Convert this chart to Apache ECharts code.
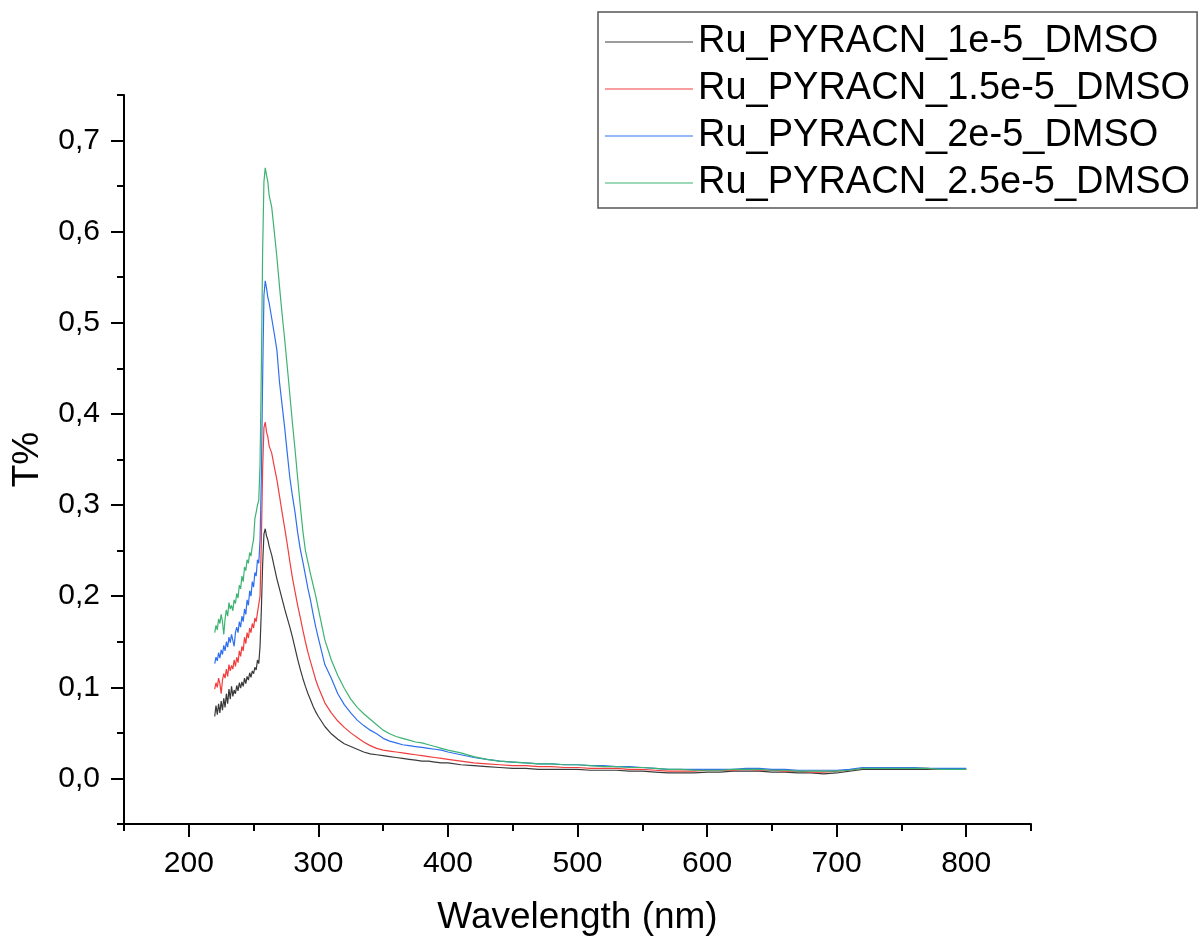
<!DOCTYPE html>
<html>
<head>
<meta charset="utf-8">
<script src="https://cdn.jsdelivr.net/npm/echarts@6/dist/echarts.min.js"></script>
<style>
  html, body { margin: 0; padding: 0; background: #fff; }
  #chart { width: 1198px; height: 941px; }
</style>
</head>
<body>
<div id="chart"></div>
<script>
// Wavelength grid (nm): 1 nm steps over the band, then coarser
const wavelengths = [
  220,221,222,223,224,225,226,227,228,229,230,231,232,233,234,235,236,237,238,239,
  240,241,242,243,244,245,246,247,248,249,250,251,252,253,254,255,256,257,258,259,
  260,261,262,
  264,266,268,270,272,274,276,278,280,282,284,286,288,290,292,294,296,298,300,
  305,310,315,320,325,330,335,340,345,350,355,360,365,370,375,380,385,390,395,400,
  410,420,430,440,450,460,470,480,490,500,510,520,530,540,550,560,570,580,590,600,
  610,620,630,640,650,660,670,680,690,700,710,720,730,740,750,760,770,780,790,800
];

const seriesNames = [
  'Ru_PYRACN_1e-5_DMSO',
  'Ru_PYRACN_1.5e-5_DMSO',
  'Ru_PYRACN_2e-5_DMSO',
  'Ru_PYRACN_2.5e-5_DMSO'
];

const conc1e5 = [
  0.068,0.080,0.070,0.082,0.072,0.085,0.075,0.088,0.078,0.093,
  0.082,0.098,0.087,0.101,0.090,0.097,0.093,0.102,0.096,0.105,
  0.099,0.106,0.101,0.110,0.104,0.112,0.108,0.116,0.111,0.118,
  0.115,0.122,0.119,0.130,0.126,0.145,0.185,0.235,0.268,0.274,
  0.266,0.262,0.255,
  0.245,0.232,0.219,0.208,0.197,0.186,0.176,0.166,0.155,0.143,
  0.131,0.120,0.110,0.101,0.093,0.086,0.079,0.073,0.068,
  0.057,0.049,0.043,0.038,0.035,0.032,0.029,0.027,0.026,0.025,
  0.024,0.023,0.022,0.021,0.020,0.019,0.019,0.018,0.017,0.017,
  0.015,0.014,0.013,0.012,0.011,0.011,0.010,0.010,0.010,0.010,
  0.009,0.009,0.009,0.008,0.008,0.007,0.006,0.006,0.006,0.007,
  0.007,0.008,0.008,0.008,0.007,0.007,0.006,0.006,0.005,0.006,
  0.008,0.010,0.010,0.010,0.010,0.010,0.010,0.010,0.010,0.010
];

const conc15e5 = [
  0.098,0.105,0.100,0.110,0.104,0.093,0.108,0.115,0.110,0.120,
  0.112,0.125,0.118,0.124,0.120,0.130,0.123,0.133,0.127,0.140,
  0.134,0.145,0.140,0.155,0.148,0.160,0.154,0.165,0.160,0.170,
  0.165,0.176,0.172,0.182,0.180,0.200,0.260,0.340,0.385,0.391,
  0.380,0.375,0.365,
  0.357,0.342,0.328,0.310,0.292,0.275,0.257,0.238,0.220,0.205,
  0.190,0.177,0.163,0.150,0.138,0.128,0.118,0.108,0.100,
  0.083,0.072,0.063,0.056,0.050,0.045,0.040,0.036,0.033,0.031,
  0.030,0.029,0.028,0.027,0.026,0.025,0.024,0.023,0.022,0.021,
  0.019,0.017,0.016,0.015,0.014,0.014,0.013,0.013,0.012,0.012,
  0.011,0.011,0.011,0.010,0.010,0.009,0.008,0.008,0.008,0.009,
  0.009,0.009,0.010,0.009,0.009,0.008,0.008,0.007,0.007,0.008,
  0.009,0.011,0.011,0.011,0.011,0.011,0.011,0.010,0.010,0.010
];

const conc2e5 = [
  0.126,0.133,0.129,0.138,0.132,0.141,0.136,0.146,0.140,0.150,
  0.144,0.155,0.149,0.158,0.160,0.145,0.160,0.166,0.160,0.172,
  0.166,0.178,0.172,0.186,0.180,0.196,0.190,0.206,0.200,0.216,
  0.210,0.226,0.222,0.240,0.236,0.262,0.330,0.440,0.530,0.546,
  0.538,0.528,0.522,
  0.505,0.488,0.470,0.435,0.410,0.385,0.357,0.330,0.310,0.292,
  0.270,0.252,0.238,0.223,0.208,0.195,0.180,0.166,0.154,
  0.125,0.110,0.093,0.081,0.072,0.064,0.058,0.053,0.049,0.044,
  0.041,0.039,0.037,0.036,0.035,0.034,0.033,0.032,0.031,0.029,
  0.026,0.023,0.021,0.019,0.018,0.017,0.016,0.016,0.015,0.015,
  0.014,0.014,0.013,0.013,0.012,0.011,0.010,0.010,0.010,0.010,
  0.010,0.010,0.011,0.011,0.010,0.010,0.009,0.009,0.009,0.009,
  0.010,0.012,0.012,0.012,0.012,0.012,0.011,0.011,0.011,0.011
];

const conc25e5 = [
  0.160,0.168,0.163,0.175,0.170,0.180,0.172,0.158,0.175,0.185,
  0.178,0.193,0.186,0.190,0.184,0.196,0.192,0.203,0.198,0.212,
  0.208,0.222,0.216,0.232,0.228,0.240,0.236,0.248,0.244,0.255,
  0.262,0.285,0.292,0.300,0.305,0.345,0.450,0.580,0.655,0.670,
  0.662,0.655,0.640,
  0.627,0.600,0.572,0.540,0.510,0.482,0.452,0.421,0.390,0.361,
  0.330,0.300,0.272,0.250,0.237,0.224,0.212,0.200,0.186,
  0.152,0.130,0.113,0.099,0.087,0.078,0.071,0.065,0.059,0.053,
  0.049,0.046,0.044,0.042,0.040,0.039,0.037,0.035,0.033,0.031,
  0.028,0.024,0.021,0.019,0.018,0.017,0.016,0.016,0.015,0.015,
  0.014,0.013,0.013,0.012,0.012,0.011,0.010,0.010,0.009,0.009,
  0.009,0.010,0.010,0.010,0.009,0.009,0.008,0.008,0.008,0.008,
  0.009,0.011,0.011,0.011,0.011,0.011,0.011,0.010,0.010,0.010
];

const seriesColors = ['#3a3a3a', '#f23d3d', '#2f6fee', '#3cb371'];

// Tick positions
const xMajorTicks = [200, 300, 400, 500, 600, 700, 800];
const xMinorTicks = [150, 250, 350, 450, 550, 650, 750, 850];
const yMajorTicks = [0, 0.1, 0.2, 0.3, 0.4, 0.5, 0.6, 0.7];
const yMinorTicks = [-0.05, 0.05, 0.15, 0.25, 0.35, 0.45, 0.55, 0.65, 0.75];

const FONT = '"Liberation Sans", Arial, sans-serif';
const axisLineStyle = { color: '#000', width: 2 };

const allValues = [conc1e5, conc15e5, conc2e5, conc25e5];

const chart = echarts.init(document.getElementById('chart'), null, { renderer: 'canvas' });

chart.setOption({
  animation: false,
  backgroundColor: '#fff',
  grid: { left: 124, right: 167, top: 95, bottom: 115, containLabel: false },
  legend: {
    orient: 'vertical',
    left: 598,
    top: 12,
    padding: [10, 7, 5, 7],
    itemGap: 7,
    itemWidth: 88,
    itemHeight: 2,
    icon: 'rect',
    borderColor: '#555',
    borderWidth: 1.5,
    backgroundColor: '#fff',
    itemStyle: { opacity: 0.5 },
    textStyle: { fontFamily: FONT, fontSize: 38, color: '#000', lineHeight: 40 },
    data: seriesNames
  },
  xAxis: [
    {
      type: 'value', min: 150, max: 850, position: 'bottom',
      name: 'Wavelength (nm)', nameLocation: 'middle', nameGap: 75,
      nameTextStyle: { fontFamily: FONT, fontSize: 37, color: '#000' },
      axisLine: { show: true, onZero: false, lineStyle: axisLineStyle },
      axisTick: { show: true, inside: false, length: 13, lineStyle: axisLineStyle, customValues: xMajorTicks },
      axisLabel: { show: true, margin: 25, fontFamily: FONT, fontSize: 30, color: '#000', customValues: xMajorTicks },
      splitLine: { show: false }
    },
    {
      type: 'value', min: 150, max: 850, position: 'bottom', offset: 0,
      axisLine: { show: false, onZero: false },
      axisTick: { show: true, inside: false, length: 7, lineStyle: axisLineStyle, customValues: xMinorTicks },
      axisLabel: { show: false },
      splitLine: { show: false }
    }
  ],
  yAxis: [
    {
      type: 'value', min: -0.05, max: 0.75, position: 'left',
      name: 'T%', nameLocation: 'middle', nameGap: 78, nameRotate: 90,
      nameTextStyle: { fontFamily: FONT, fontSize: 37, color: '#000' },
      axisLine: { show: true, onZero: false, lineStyle: axisLineStyle },
      axisTick: { show: true, inside: false, length: 13, lineStyle: axisLineStyle, customValues: yMajorTicks },
      axisLabel: {
        show: true, margin: 24, fontFamily: FONT, fontSize: 30, color: '#000',
        customValues: yMajorTicks,
        formatter: v => v.toFixed(1).replace('.', ',')
      },
      splitLine: { show: false }
    },
    {
      type: 'value', min: -0.05, max: 0.75, position: 'left', offset: 0,
      axisLine: { show: false, onZero: false },
      axisTick: { show: true, inside: false, length: 7, lineStyle: axisLineStyle, customValues: yMinorTicks },
      axisLabel: { show: false },
      splitLine: { show: false }
    }
  ],
  series: seriesNames.map((name, k) => ({
    name,
    type: 'line',
    xAxisIndex: 0,
    yAxisIndex: 0,
    symbol: 'none',
    smooth: false,
    color: seriesColors[k],
    lineStyle: { width: 1.2, color: seriesColors[k] },
    data: wavelengths.map((w, i) => [w, allValues[k][i]])
  }))
});
</script>
</body>
</html>
